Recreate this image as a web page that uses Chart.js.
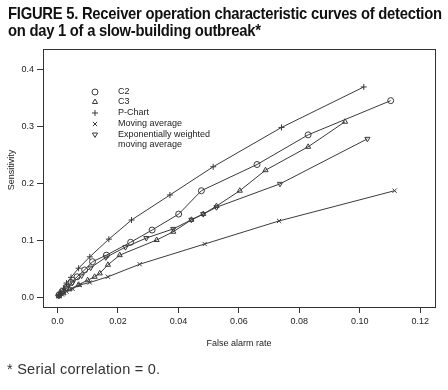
<!DOCTYPE html>
<html lang="en">
<head>
  <meta charset="UTF-8" />
  <title>Figure 5 | ROC curves, slow-building outbreak</title>
  <style>
    body {
      margin: 0;
      width: 448px;
      height: 390px;
      background: #fff;
      position: relative;
      overflow: hidden;
      font-family: 'Liberation Sans', Arial, sans-serif;
      color: #222;
    }

    .title {
      position: absolute;
      left: 8px;
      top: 5px;
      font-weight: bold;
      font-size: 16.5px;
      line-height: 17px;
      letter-spacing: -0.3px;
      white-space: nowrap;
      transform-origin: 0 0;
      color: #111;
    }

    .note {
      position: absolute;
      left: 7px;
      top: 361px;
      font-size: 14.5px;
      letter-spacing: 0.25px;
      color: #333;
    }

    #rocChart {
      position: absolute;
      left: 0;
      top: 0;
    }
  </style>
</head>
<body>
  <canvas id="rocChart" width="448" height="390"></canvas>
  <div class="title" id="title">FIGURE 5. Receiver operation characteristic curves of detection<br>on day 1 of a slow-building outbreak*</div>
  <div class="note">* Serial correlation = 0.</div>

  <script src="https://cdn.jsdelivr.net/npm/chart.js"></script>
  <script>
    // values (false alarm rate, sensitivity)
    const c2X = [0.1102, 0.0829, 0.066, 0.0476, 0.0401, 0.0313, 0.0242, 0.0162, 0.0116, 0.009, 0.0065, 0.0045, 0.003, 0.0015, 0.0005];
    const c2Y = [0.345, 0.285, 0.233, 0.187, 0.146, 0.118, 0.0965, 0.074, 0.0625, 0.048, 0.036, 0.026, 0.018, 0.010, 0.004];

    const c3X = [0.0951, 0.0829, 0.0688, 0.0603, 0.0526, 0.0482, 0.0443, 0.0383, 0.0328, 0.0206, 0.0167, 0.014, 0.0123, 0.010, 0.007, 0.004, 0.002, 0.0005];
    const c3Y = [0.308, 0.264, 0.223, 0.187, 0.160, 0.146, 0.136, 0.115, 0.1005, 0.074, 0.057, 0.042, 0.036, 0.030, 0.022, 0.014, 0.007, 0.002];

    const pChartX = [0.1013, 0.0741, 0.0515, 0.0372, 0.0245, 0.017, 0.0107, 0.007, 0.0045, 0.003, 0.002, 0.001, 0.0003];
    const pChartY = [0.369, 0.298, 0.229, 0.1795, 0.1356, 0.102, 0.071, 0.051, 0.035, 0.025, 0.016, 0.009, 0.003];

    const maX = [0.1115, 0.0733, 0.0487, 0.0272, 0.0167, 0.0107, 0.0074, 0.005, 0.003, 0.0015, 0.0005];
    const maY = [0.187, 0.134, 0.0935, 0.058, 0.036, 0.026, 0.0216, 0.015, 0.010, 0.005, 0.002];

    const ewmaX = [0.1025, 0.0736, 0.0526, 0.0482, 0.0443, 0.0383, 0.0294, 0.0225, 0.016, 0.011, 0.008, 0.005, 0.003, 0.0015, 0.0005];
    const ewmaY = [0.278, 0.199, 0.158, 0.146, 0.136, 0.120, 0.104, 0.088, 0.070, 0.052, 0.038, 0.026, 0.016, 0.008, 0.003];

    const xTicks = [0, 0.02, 0.04, 0.06, 0.08, 0.10, 0.12];
    const xTickLabels = ['0.0', '0.02', '0.04', '0.06', '0.08', '0.10', '0.12'];
    const yTicks = [0, 0.1, 0.2, 0.3, 0.4];
    const yTickLabels = ['0.0', '0.1', '0.2', '0.3', '0.4'];

    const seriesNames = ['C2', 'C3', 'P-Chart', 'Moving average', 'Exponentially weighted'];

    const ink = '#3a3a3a';

    // squeeze the title into the condensed width of the original
    const titleEl = document.getElementById('title');
    titleEl.style.transform = 'scaleX(' + (434 / titleEl.scrollWidth) + ')';

    function toPoints(xs, ys) {
      return xs.map((x, i) => ({ x: x, y: ys[i] }));
    }

    function series(label, xs, ys, style, rotation) {
      return {
        label: label,
        data: toPoints(xs, ys),
        borderColor: ink,
        backgroundColor: 'rgba(0,0,0,0)',
        borderWidth: 1,
        pointStyle: style,
        rotation: rotation || 0,
        pointRadius: 3,
        pointBorderWidth: 1,
        pointBorderColor: ink,
        tension: 0
      };
    }

    const legendItems = [
      { text: 'C2', style: 'circle', rot: 0 },
      { text: 'C3', style: 'triangle', rot: 0 },
      { text: 'P-Chart', style: 'cross', rot: 0 },
      { text: 'Moving average', style: 'crossRot', rot: 0 },
      { text: 'Exponentially weighted', style: 'triangle', rot: 180 }
    ];

    const framePlugin = {
      id: 'frame',
      afterDraw(chart) {
        const ctx = chart.ctx;
        const a = chart.chartArea;
        ctx.save();
        ctx.strokeStyle = '#333';
        ctx.lineWidth = 1;
        ctx.strokeRect(Math.round(a.left) + 0.5, Math.round(a.top) + 0.5,
          Math.round(a.right - a.left), Math.round(a.bottom - a.top));

        // axis titles
        ctx.fillStyle = '#222';
        ctx.font = '9px "Liberation Sans", Arial, sans-serif';
        ctx.textAlign = 'center';
        ctx.textBaseline = 'middle';
        ctx.fillText('False alarm rate', (a.left + a.right) / 2, 344);
        ctx.translate(12, 170);
        ctx.rotate(-Math.PI / 2);
        ctx.fillText('Sensitivity', 0, 0);
        ctx.restore();

        // legend inside plot
        ctx.save();
        ctx.font = '9px "Liberation Sans", Arial, sans-serif';
        ctx.strokeStyle = ink;
        ctx.lineWidth = 1;
        ctx.textAlign = 'left';
        ctx.textBaseline = 'middle';
        const rows = [92, 102, 113, 124, 134.5];
        legendItems.forEach((it, i) => {
          ctx.fillStyle = 'rgba(0,0,0,0)';
          Chart.helpers.drawPoint(ctx, { pointStyle: it.style, radius: 3, rotation: it.rot, borderWidth: 1 }, 95, rows[i]);
          ctx.fillStyle = '#222';
          ctx.fillText(it.text, 118, rows[i]);
        });
        ctx.fillText('moving average', 118, 145);
        ctx.restore();
      }
    };

    new Chart(document.getElementById('rocChart'), {
      type: 'line',
      data: {
        datasets: [
          series(seriesNames[0], c2X, c2Y, 'circle'),
          series(seriesNames[1], c3X, c3Y, 'triangle'),
          series(seriesNames[2], pChartX, pChartY, 'cross'),
          series(seriesNames[3], maX, maY, 'crossRot'),
          series(seriesNames[4], ewmaX, ewmaY, 'triangle', 180)
        ]
      },
      options: {
        responsive: false,
        animation: false,
        devicePixelRatio: 1,
        layout: { padding: { left: 8, right: 13, top: 49, bottom: 0 } },
        plugins: {
          legend: { display: false },
          tooltip: { enabled: false }
        },
        scales: {
          x: {
            type: 'linear',
            min: -0.00477,
            max: 0.12485,
            afterBuildTicks: s => { s.ticks = xTicks.map(v => ({ value: v })); },
            afterFit: s => { s.height = 83; },
            ticks: {
              autoSkip: false,
              maxRotation: 0,
              padding: 3,
              color: '#222',
              font: { size: 9, family: '"Liberation Sans", Arial, sans-serif' },
              callback: v => xTickLabels[xTicks.findIndex(t => Math.abs(t - v) < 1e-9)]
            },
            grid: { drawOnChartArea: false, tickLength: 6, color: '#333' },
            border: { color: '#333', width: 1 }
          },
          y: {
            type: 'linear',
            min: -0.017,
            max: 0.4356,
            afterBuildTicks: s => { s.ticks = yTicks.map(v => ({ value: v })); },
            afterFit: s => { s.width = 35; },
            ticks: {
              autoSkip: false,
              padding: 3,
              color: '#222',
              font: { size: 9, family: '"Liberation Sans", Arial, sans-serif' },
              callback: v => yTickLabels[yTicks.findIndex(t => Math.abs(t - v) < 1e-9)]
            },
            grid: { drawOnChartArea: false, tickLength: 6, color: '#333' },
            border: { color: '#333', width: 1 }
          }
        }
      },
      plugins: [framePlugin]
    });
  </script>
</body>
</html>
